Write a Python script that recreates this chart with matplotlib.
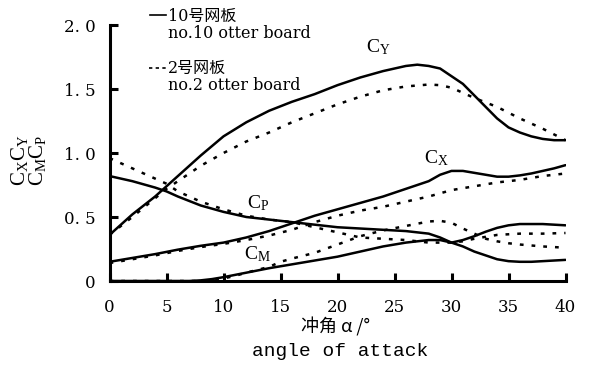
import matplotlib
matplotlib.use("Agg")
import matplotlib.pyplot as plt
from matplotlib.lines import Line2D
import numpy as np

plt.rcParams['font.family'] = ['DejaVu Serif', 'Noto Sans CJK SC', 'DejaVu Sans']
plt.rcParams['mathtext.fontset'] = 'custom'
plt.rcParams['mathtext.rm'] = 'Liberation Serif'
plt.rcParams['mathtext.it'] = 'Liberation Serif'

# ---- data ----
cy10_x = [0, 2, 4, 6, 8, 10, 12, 14, 16, 18, 20, 22, 24, 26, 27, 28, 29, 30, 31, 32, 33, 34, 35, 36, 37, 38, 39, 40]
cy10_y = [0.36, 0.52, 0.66, 0.82, 0.98, 1.13, 1.24, 1.33, 1.40, 1.46, 1.53, 1.59, 1.64, 1.68, 1.69, 1.68, 1.66, 1.60, 1.54, 1.45, 1.36, 1.27, 1.20, 1.16, 1.13, 1.11, 1.10, 1.10]

cy2_x = [0, 2, 5, 8, 10, 12, 14, 16, 18, 20, 22, 24, 26, 28, 29, 30, 32, 34, 36, 38, 40]
cy2_y = [0.36, 0.50, 0.72, 0.90, 1.00, 1.09, 1.16, 1.24, 1.31, 1.38, 1.44, 1.49, 1.52, 1.535, 1.53, 1.51, 1.43, 1.36, 1.27, 1.19, 1.10]

cx10_x = [0, 2, 4, 6, 8, 10, 12, 14, 16, 18, 20, 22, 24, 26, 28, 29, 30, 31, 32, 33, 34, 35, 36, 37, 38, 39, 40]
cx10_y = [0.15, 0.18, 0.21, 0.245, 0.275, 0.30, 0.34, 0.39, 0.45, 0.51, 0.56, 0.61, 0.66, 0.72, 0.78, 0.83, 0.86, 0.86, 0.845, 0.83, 0.815, 0.815, 0.825, 0.84, 0.86, 0.88, 0.905]

cx2_x = [0, 2, 4, 6, 8, 10, 12, 14, 16, 18, 20, 22, 24, 26, 28, 30, 32, 34, 36, 38, 40]
cx2_y = [0.14, 0.17, 0.20, 0.235, 0.265, 0.29, 0.32, 0.355, 0.40, 0.46, 0.51, 0.55, 0.58, 0.62, 0.66, 0.71, 0.74, 0.77, 0.79, 0.82, 0.84]

cp10_x = [0, 2, 4, 5, 6, 8, 10, 12, 14, 16, 18, 20, 22, 24, 26, 28, 29, 30, 31, 32, 33, 34, 35, 36, 37, 38, 40]
cp10_y = [0.82, 0.78, 0.73, 0.70, 0.66, 0.59, 0.54, 0.50, 0.48, 0.46, 0.44, 0.42, 0.41, 0.40, 0.39, 0.37, 0.34, 0.30, 0.27, 0.23, 0.20, 0.17, 0.155, 0.15, 0.15, 0.155, 0.165]

cp2_x = [0, 2, 4, 5, 6, 8, 10, 12, 14, 16, 18, 20, 22, 24, 26, 28, 30, 31, 32, 34, 36, 38, 40]
cp2_y = [0.96, 0.88, 0.80, 0.76, 0.70, 0.62, 0.56, 0.51, 0.48, 0.46, 0.42, 0.38, 0.34, 0.33, 0.32, 0.30, 0.30, 0.31, 0.33, 0.36, 0.37, 0.37, 0.375]

cm10_x = [0, 7, 8, 9, 10, 12, 14, 16, 18, 20, 22, 24, 26, 28, 29, 30, 31, 32, 33, 34, 35, 36, 38, 40]
cm10_y = [0.0, 0.0, 0.005, 0.015, 0.03, 0.065, 0.10, 0.13, 0.16, 0.19, 0.23, 0.27, 0.30, 0.32, 0.32, 0.30, 0.32, 0.35, 0.385, 0.415, 0.435, 0.445, 0.445, 0.435]

cm2_x = [0, 8, 9, 10, 11, 12, 14, 15, 16, 18, 20, 22, 24, 26, 28, 29, 30, 31, 32, 33, 34, 35, 36, 38, 40]
cm2_y = [0.0, 0.0, 0.005, 0.02, 0.04, 0.065, 0.11, 0.15, 0.175, 0.22, 0.285, 0.35, 0.395, 0.43, 0.465, 0.47, 0.455, 0.41, 0.37, 0.33, 0.31, 0.295, 0.285, 0.27, 0.26]

x_ticks = [0, 5, 10, 15, 20, 25, 30, 35, 40]
y_ticks = [0, 0.5, 1.0, 1.5, 2.0]
y_ticklabels = ["0", "0. 5", "1. 0", "1. 5", "2. 0"]

W, H = 589, 369
fig = plt.figure(figsize=(W / 100, H / 100), dpi=100)
ax = fig.add_axes([109.5 / W, 1 - 281 / H, 456 / W, 256 / H])

solid = dict(color='black', lw=1.8, linestyle='-', solid_capstyle='round')
dotted = dict(color='black', lw=1.8, linestyle=(0, (1.5, 3.2)))

ax.plot(cy10_x, cy10_y, **solid)
ax.plot(cy2_x, cy2_y, **dotted)
ax.plot(cx10_x, cx10_y, **solid)
ax.plot(cx2_x, cx2_y, **dotted)
ax.plot(cp10_x, cp10_y, **solid)
ax.plot(cp2_x, cp2_y, **dotted)
ax.plot(cm10_x, cm10_y, **solid)
ax.plot(cm2_x, cm2_y, **dotted)

ax.set_xlim(0, 40)
ax.set_ylim(0, 2.0)
for s in ['top', 'right']:
    ax.spines[s].set_visible(False)
for s in ['left', 'bottom']:
    ax.spines[s].set_linewidth(2.2)
ax.set_xticks(x_ticks)
ax.set_yticks(y_ticks)
ax.set_yticklabels(y_ticklabels)
ax.tick_params(direction='in', length=6, width=2.2, labelsize=12)
ax.tick_params(axis='x', pad=13)
ax.tick_params(axis='y', pad=10)

# curve labels
lab = dict(fontsize=14, ha='center', va='center')
ax.text(23.6, 1.83, r'$\mathrm{C_Y}$', **lab)
ax.text(28.7, 0.96, r'$\mathrm{C_X}$', **lab)
ax.text(13.0, 0.61, r'$\mathrm{C_P}$', **lab)
ax.text(13.0, 0.21, r'$\mathrm{C_M}$', **lab)

# y label
fig.text(19 / W, 1 - 160 / H, r'$\mathrm{C_XC_Y}$', rotation=90, fontsize=15, ha='center', va='center')
fig.text(38 / W, 1 - 160 / H, r'$\mathrm{C_MC_P}$', rotation=90, fontsize=15, ha='center', va='center')

# x label
fig.text(336 / W, 1 - 327 / H, '冲角 α /°', fontsize=13, ha='center', va='center',
         family=['Noto Sans CJK SC', 'DejaVu Sans'])
fig.text(340 / W, 1 - 352 / H, 'angle of attack', fontsize=14, ha='center', va='center',
         family=['Liberation Mono', 'DejaVu Sans'])

# legend
fig.add_artist(Line2D([150 / W, 166 / W], [1 - 15 / H, 1 - 15 / H], color='black', lw=1.2))
fig.text(168 / W, 1 - 16 / H, '10号网板', fontsize=11.5, ha='left', va='center',
         family=['DejaVu Serif', 'Noto Sans CJK SC'])
fig.text(168 / W, 1 - 33 / H, 'no.10 otter board', fontsize=11.5, ha='left', va='center')
fig.add_artist(Line2D([149 / W, 166 / W], [1 - 68 / H, 1 - 68 / H], color='black', lw=1.2,
                      linestyle=(0, (2, 2))))
fig.text(168 / W, 1 - 68 / H, '2号网板', fontsize=11.5, ha='left', va='center',
         family=['DejaVu Serif', 'Noto Sans CJK SC'])
fig.text(168 / W, 1 - 85 / H, 'no.2 otter board', fontsize=11.5, ha='left', va='center')

fig.savefig('out.png', dpi=100)
